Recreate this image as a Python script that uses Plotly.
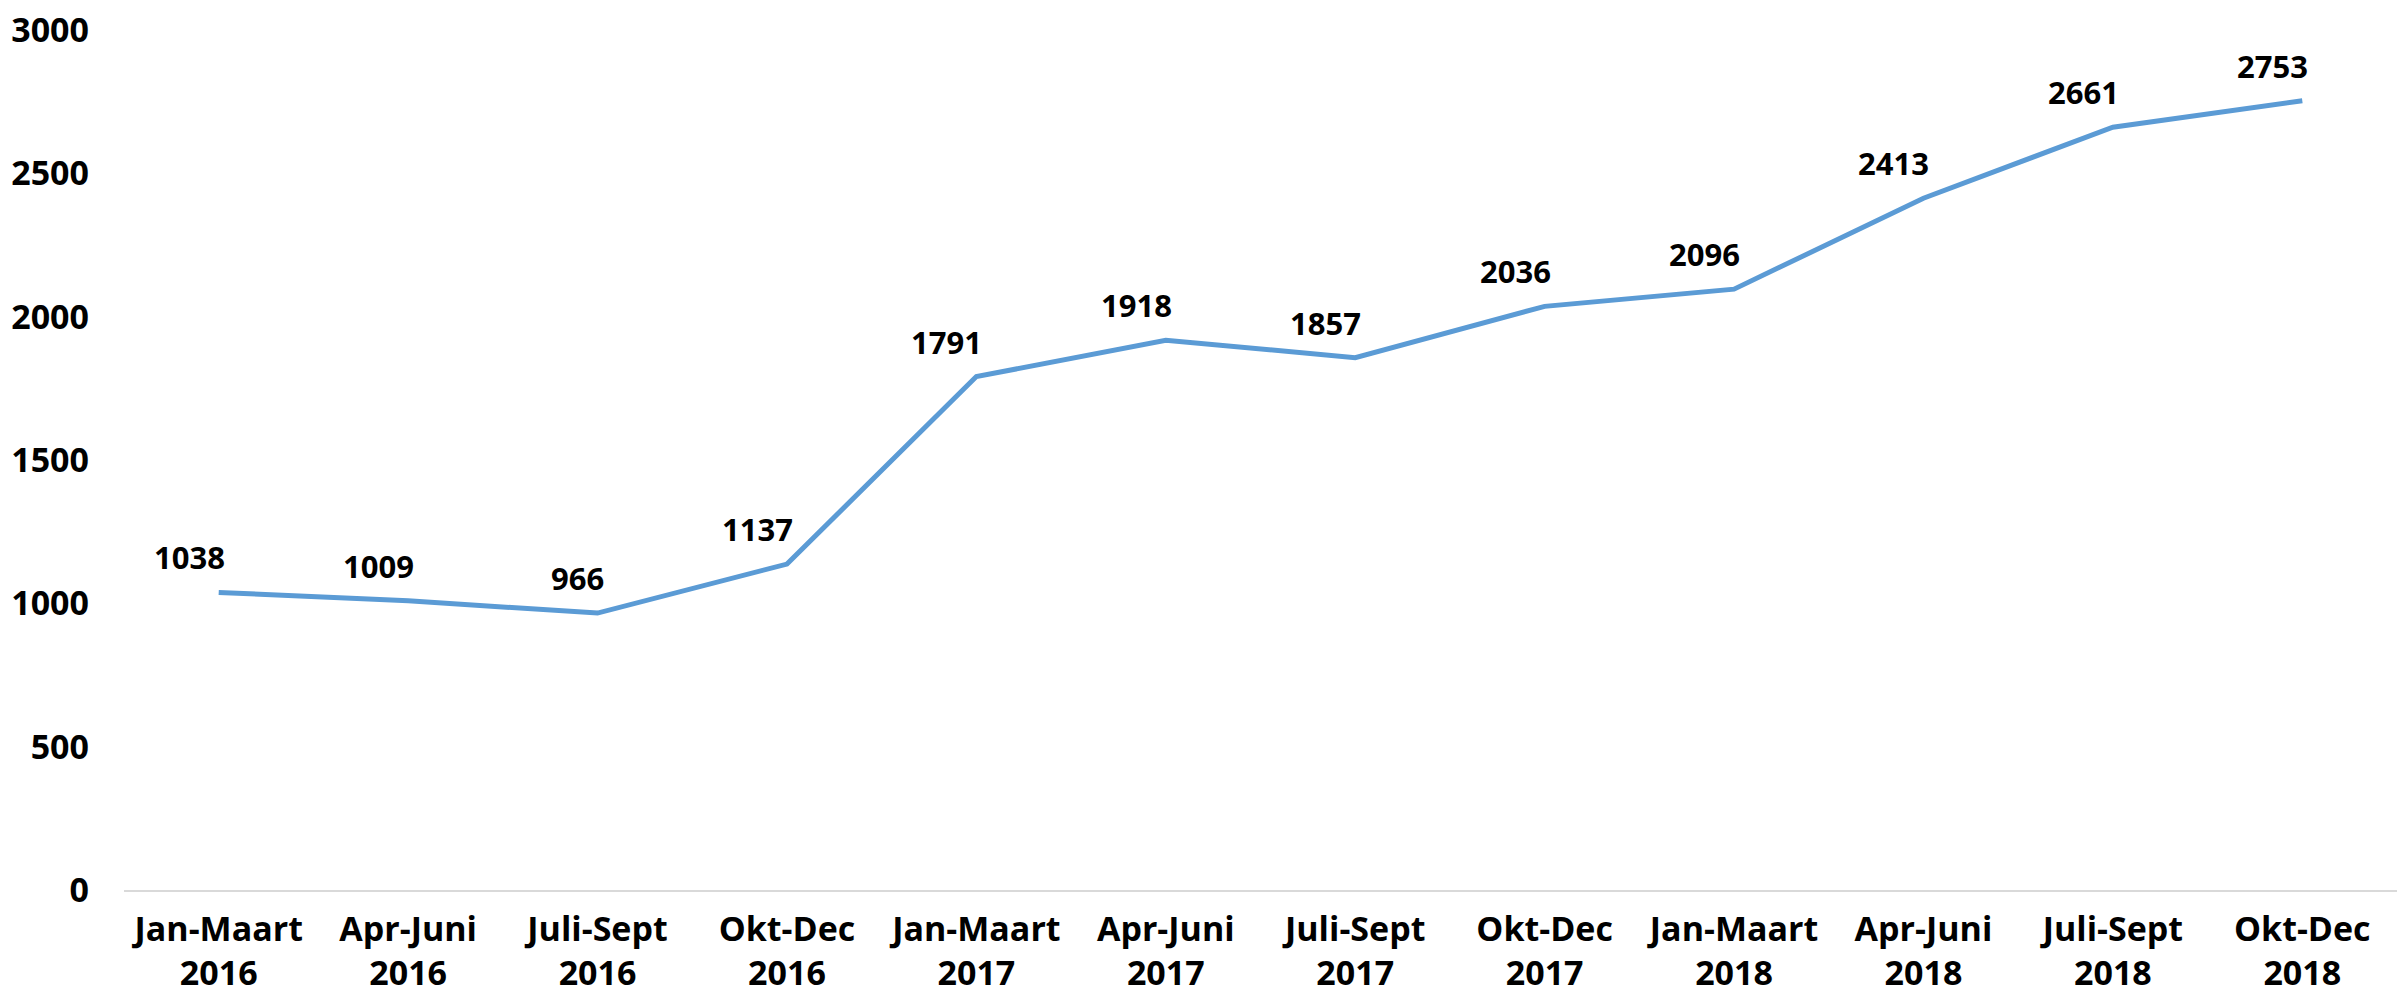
import plotly.graph_objects as go

periods = ["Jan-Maart", "Apr-Juni", "Juli-Sept", "Okt-Dec"]
years = ["2016", "2017", "2018"]
categories = [f"{p}<br>{y}" for y in years for p in periods]
values = [1038, 1009, 966, 1137, 1791, 1918, 1857, 2036, 2096, 2413, 2661, 2753]

y_ticks = [0, 500, 1000, 1500, 2000, 2500, 3000]

font_family = "Open Sans, Liberation Sans, sans-serif"
tick_font = dict(family=font_family, size=34, color="black", weight="bold")

fig = go.Figure(go.Scatter(
    x=categories,
    y=values,
    mode="lines",
    line=dict(color="#5B9BD5", width=5),
    hoverinfo="skip",
))

# data labels sit above and a little to the left of each point
for c, v in zip(categories, values):
    fig.add_annotation(
        x=c, y=v, text=str(v),
        showarrow=False,
        xanchor="right", yanchor="bottom",
        xshift=8, yshift=12,
        font=dict(family=font_family, size=31, color="black", weight="bold"),
    )

# page body adds an 8px offset, margins are set to compensate
fig.update_layout(
    width=2405,
    height=999,
    paper_bgcolor="white",
    plot_bgcolor="white",
    showlegend=False,
    margin=dict(l=116, r=16, t=22, b=117, autoexpand=False),
    font=dict(family=font_family, size=34, color="black", weight="bold"),
)

fig.update_xaxes(
    type="category",
    range=[-0.5, len(categories) - 0.5],
    showgrid=False,
    showline=True,
    linecolor="#D9D9D9",
    linewidth=2,
    ticks="",
    ticklabelstandoff=8,
    ticklabeloverflow="allow",
    tickfont=tick_font,
)

fig.update_yaxes(
    range=[0, 3000],
    tickvals=y_ticks,
    showgrid=False,
    zeroline=False,
    showline=False,
    ticks="",
    ticklabelstandoff=34,
    ticklabeloverflow="allow",
    tickfont=tick_font,
)

fig.write_html("out.html")
